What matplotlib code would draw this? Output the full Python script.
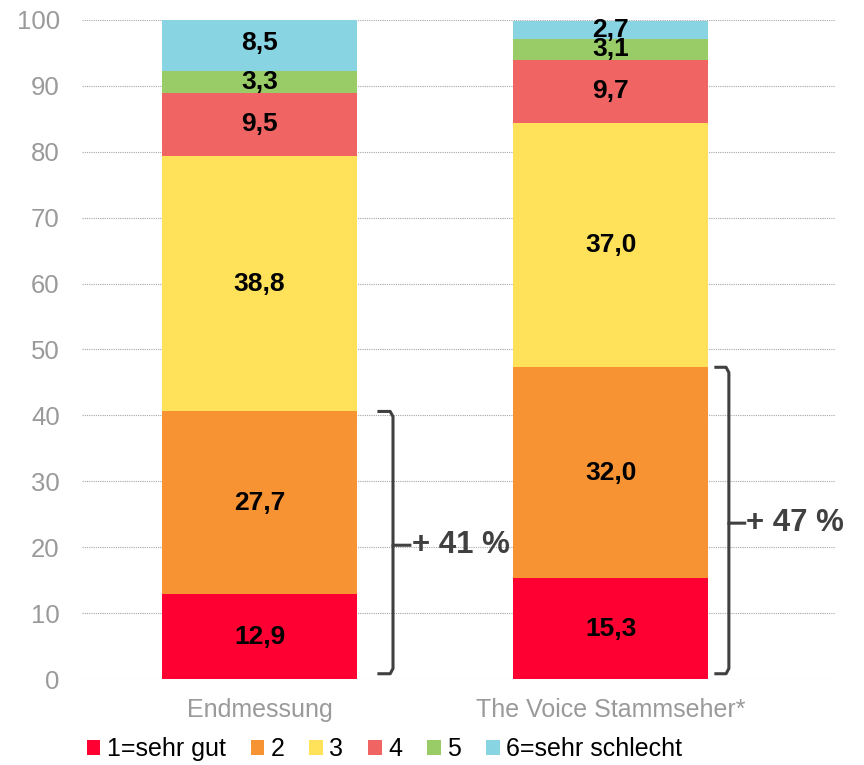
import numpy as np
import matplotlib.pyplot as plt
from matplotlib.patches import Patch

plt.rcParams['font.family'] = ['Liberation Sans', 'DejaVu Sans']

categories = ['Endmessung', 'The Voice Stammseher*']
grades = ['1=sehr gut', '2', '3', '4', '5', '6=sehr schlecht']
values = [
    [12.9, 15.3],
    [27.7, 32.0],
    [38.8, 37.0],
    [9.5, 9.7],
    [3.3, 3.1],
    [8.5, 2.7],
]
labels = [['12,9', '15,3'], ['27,7', '32,0'], ['38,8', '37,0'],
          ['9,5', '9,7'], ['3,3', '3,1'], ['8,5', '2,7']]
brace_text = ['+ 41 %', '+ 47 %']
colors = ['#FF0033', '#F79333', '#FFE15A', '#F06464', '#99CC66', '#89D4E3']

fig = plt.figure(figsize=(8.64, 7.65), dpi=100)
ax = fig.add_axes([0.095, 0.1124, 0.871, 0.8615])

x = np.arange(len(categories))
w = 0.555
bottom = np.zeros(len(categories))
for vals, labs, c in zip(values, labels, colors):
    vals = np.array(vals)
    ax.bar(x, vals, w, bottom=bottom, color=c, zorder=2)
    for xi, b, v, t in zip(x, bottom, vals, labs):
        ax.text(xi, b + v / 2, t, ha='center', va='center',
                fontsize=19, fontweight='bold', color='black', zorder=3)
    bottom += vals

# braces over grades 1+2 (hook, spine, tip offsets from bar centre)
brace_pos = [(0.340, 0.380, 0.428), (0.299, 0.336, 0.381)]
top12 = np.array(values[0]) + np.array(values[1])
for xi, h, t, (dh, dv, dt) in zip(x, top12, brace_text, brace_pos):
    x0, x1, x2 = xi + dh, xi + dv, xi + dt
    mid = h / 2
    ax.plot([x0, x1 - 0.008, x1, x1, x2], [0.8, 0.8, 1.6, mid, mid],
            color='#404040', lw=2.2, solid_joinstyle='round', zorder=3)
    ax.plot([x0, x1 - 0.008, x1, x1], [h, h, h - 0.8, mid],
            color='#404040', lw=2.2, solid_joinstyle='round', zorder=3)
    ax.text(x2 + 0.005, mid, t, ha='left', va='center', fontsize=22.5,
            fontweight='bold', color='#404040', zorder=3)

ax.set_xlim(-0.505, 1.637)
ax.set_ylim(0, 100)
ax.set_yticks(range(0, 101, 10))
ax.set_xticks(x)
ax.set_xticklabels(categories)
ax.tick_params(axis='both', length=0, labelsize=18.5, labelcolor='#9A9A9A')
ax.tick_params(axis='x', labelsize=18, pad=14)
ax.tick_params(axis='y', pad=16)
ax.yaxis.grid(True, color='#A6A6A6', linestyle=(0, (1, 1)), lw=0.8, zorder=0)
for s in ax.spines.values():
    s.set_visible(False)

handles = [Patch(facecolor=c, edgecolor='none') for c in colors]
fig.legend(handles, grades, loc='center', bbox_to_anchor=(0.445, 0.021),
           ncol=6, frameon=False, fontsize=18, handlelength=0.55,
           handleheight=0.55, handletextpad=0.25, columnspacing=1.0)

fig.savefig('out.png', dpi=100)
